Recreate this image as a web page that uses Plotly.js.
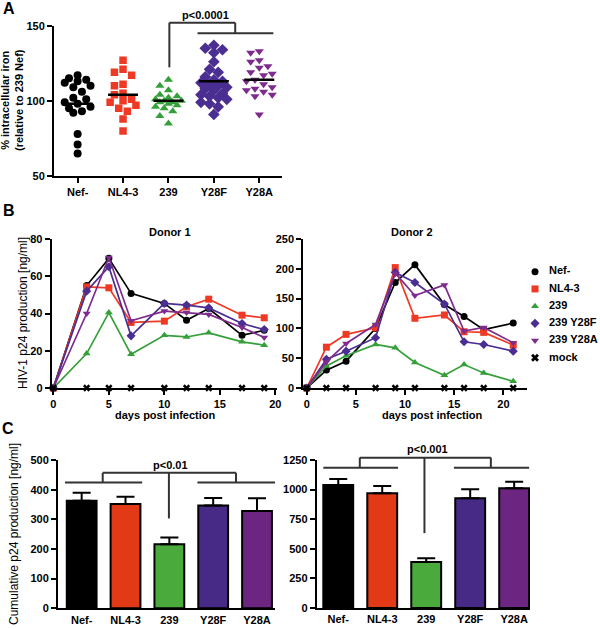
<!DOCTYPE html>
<html><head><meta charset="utf-8">
<script src="https://cdn.plot.ly/plotly-3.0.1.min.js"></script>
<style>html,body{margin:0;padding:0;background:#fff}#plot{width:600px;height:629px}</style>
</head><body><div id="plot"></div>
<script>
// ---------- DATA ----------
const groups = ["Nef-", "NL4-3", "239", "Y28F", "Y28A"];
const legendNames = ["Nef-", "NL4-3", "239", "239 Y28F", "239 Y28A", "mock"];

// Panel A: % intracellular iron (relative to 239 Nef)
const ironNef  = [117, 115, 114, 113, 112, 110, 109, 106, 102, 101, 99, 98, 96, 95, 93, 92, 78, 71, 65];
const ironNL43 = [127, 121, 119, 117, 111, 110, 105, 104, 101, 100, 99, 97, 95, 93, 88, 80];
const iron239  = [114, 110, 107, 104, 103, 102, 101, 100, 100, 99, 99, 98, 97, 96, 95, 93, 90, 85];
const ironY28F = [137, 135, 134, 132, 126, 121, 119, 116, 114, 113, 112, 111, 110, 109, 108, 107, 105, 104, 103, 102, 101, 99, 98, 96, 91];
const ironY28A = [133, 132, 127, 126, 123, 122, 119, 118, 117, 114, 113, 111, 109, 108, 107, 106, 104, 103, 91];
const ironMeans = [98, 104, 100, 113, 114];

// Panel B: HIV-1 p24 production [ng/ml]
const donor1Days = [0, 3, 5, 7, 10, 12, 14, 17, 19];
const d1Nef  = [0, 55, 69.6, 50.8, 45.4, 36.4, 42.7, 28.3, 31];
const d1NL43 = [0, 54.3, 53.8, 35.2, 35.9, 43.6, 47.7, 39.1, 37.7];
const d1_239 = [0, 18.5, 40.5, 18.1, 28.3, 27.4, 29.6, 24.8, 23];
const d1Y28F = [0, 52, 65.1, 28, 45.4, 44.5, 43, 34.6, 31.4];
const d1Y28A = [0, 40, 70.1, 36.1, 41.3, 40.5, 39.5, 32.5, 27.1];
const d1Mock = [0, 0, 0, 0, 0, 0, 0, 0, 0];

const donor2Days = [0, 2, 4, 7, 9, 11, 14, 16, 18, 21];
const d2Nef  = [0, 30, 45, 100, 177, 207, 140, 120, 98, 109];
const d2NL43 = [0, 68.5, 90, 101, 202, 117, 122.5, 94.4, 93.3, 72];
const d2_239 = [0, 37, 54, 73, 67.4, 42.7, 21.3, 39.3, 25.3, 11.2];
const d2Y28F = [0, 48.3, 61.8, 84.3, 194, 177, 141, 77.5, 73, 61.8];
const d2Y28A = [0, 43.8, 74.7, 106.7, 192.7, 155, 173, 95.5, 101.7, 75.8];
const d2Mock = [0, 0, 0, 0, 0, 0, 0, 0, 0, 0];

// Panel C: cumulative p24 production [ng/ml]
const cumD1    = [363, 352, 216, 347, 328];
const cumD1Err = [27, 24, 23, 25, 43];
const cumD2    = [1039, 969, 388, 927, 1011];
const cumD2Err = [51, 62, 33, 76, 56];

// ---------- STYLE ----------
const F = "Liberation Sans, Arial, sans-serif";
const W = 600, H = 629;
const ptCols  = ["#000000", "#ee3a24", "#35a03a", "#4b2e91", "#7e2b8e"];
const barCols = ["#000000", "#e23a16", "#4aab3c", "#472a86", "#6c2580"];
const symbols = ["circle", "square", "triangle-up", "diamond", "triangle-down"];
const ptSizes = [8, 7.5, 8, 9, 8];
const fx = p => p / W, fy = p => 1 - p / H;

const rngA = [-0.52, 4.5], rngAy = [50, 150];
const rngB1 = [-0.15, 20.15], rngB2 = [-0.35, 22.4], rngBy1 = [0, 80], rngBy2 = [0, 250];
const rngC1 = [-0.54, 4.41], rngC2 = [-0.49, 4.36], rngCy1 = [0, 500], rngCy2 = [0, 1250];

function ax(extra) {
  return Object.assign({
    showgrid: false, zeroline: false, showline: true, linecolor: "#000", linewidth: 2,
    ticks: "outside", ticklen: 5, tickwidth: 2, tickcolor: "#000",
    tickfont: {family: F, size: 11, color: "#000", weight: "bold"}, fixedrange: true
  }, extra);
}

// compact beeswarm placement (pixel-space) for the scatter dot plot
function swarm(vals, center) {
  const pxX = 45.4, pxY = 1.5, d = 7.6, s = 4.3;
  const placed = [], xs = new Array(vals.length);
  const order = vals.map((v, i) => i).sort((a, b) => vals[b] - vals[a]);
  const offs = [0, -s, s, -2 * s, 2 * s, -3 * s, 3 * s];
  for (const i of order) {
    let best = 0, bestD = -1;
    for (const off of offs) {
      const md = placed.reduce((m, p) => Math.min(m, Math.hypot(p.x - off, (p.y - vals[i]) * pxY)), Infinity);
      if (md >= d) { best = off; bestD = Infinity; break; }
      if (md > bestD) { bestD = md; best = off; }
    }
    placed.push({x: best, y: vals[i]}); xs[i] = center + best / pxX;
  }
  return xs;
}

const traces = [];
// Panel A
const ironSets = [ironNef, ironNL43, iron239, ironY28F, ironY28A];
ironSets.forEach((vals, g) => {
  traces.push({type: "scatter", mode: "markers", xaxis: "x", yaxis: "y", x: swarm(vals, g), y: vals,
    marker: {symbol: symbols[g], size: ptSizes[g], color: ptCols[g], line: {width: 0}}, showlegend: false, hoverinfo: "skip"});
});
const mx = [], my = [];
ironMeans.forEach((m, g) => { mx.push(g - 0.33, g + 0.33, null); my.push(m, m, null); });
traces.push({type: "scatter", mode: "lines", xaxis: "x", yaxis: "y", x: mx, y: my,
  line: {color: "#000", width: 2.5}, showlegend: false, hoverinfo: "skip"});

// Panel B
const d1Sets = [d1Nef, d1NL43, d1_239, d1Y28F, d1Y28A];
const d2Sets = [d2Nef, d2NL43, d2_239, d2Y28F, d2Y28A];
[[d1Sets, donor1Days, d1Mock, "x2", "y2"], [d2Sets, donor2Days, d2Mock, "x3", "y3"]].forEach(([sets, days, mock, xa, ya]) => {
  sets.forEach((vals, g) => {
    traces.push({type: "scatter", mode: "lines+markers", xaxis: xa, yaxis: ya, x: days, y: vals, cliponaxis: false,
      line: {color: ptCols[g], width: 1.7}, marker: {symbol: symbols[g], size: 7, color: ptCols[g]},
      showlegend: false, hoverinfo: "skip"});
  });
  traces.push({type: "scatter", mode: "markers", xaxis: xa, yaxis: ya, x: days, y: mock, cliponaxis: false,
    marker: {symbol: "x", size: 6.5, color: "#000"}, showlegend: false, hoverinfo: "skip"});
});

// Panel C
const idx = groups.map((g, i) => i);
[[cumD1, cumD1Err, "x4", "y4"], [cumD2, cumD2Err, "x5", "y5"]].forEach(([vals, errs, xa, ya]) => {
  traces.push({type: "bar", xaxis: xa, yaxis: ya, x: idx, y: vals, width: 0.68,
    marker: {color: barCols, line: {color: "#000", width: 2}},
    error_y: {type: "data", array: errs, arrayminus: errs.map(() => 0), symmetric: false, color: "#000", thickness: 2, width: 9},
    showlegend: false, hoverinfo: "skip"});
});

// Legend (drawn as its own small hidden subplot)
const legSyms = symbols.concat(["x"]);
const legCols = ptCols.concat(["#000"]);
const legIdx = legendNames.map((n, i) => i);
traces.push({type: "scatter", mode: "markers", xaxis: "x6", yaxis: "y6", x: legIdx.map(() => 5), y: legIdx,
  marker: {symbol: legSyms, color: legCols, size: 7}, showlegend: false, hoverinfo: "skip", cliponaxis: false});
traces.push({type: "scatter", mode: "text", xaxis: "x6", yaxis: "y6", x: legIdx.map(() => 19), y: legIdx,
  text: legendNames, textposition: "middle right", textfont: {family: F, size: 11, color: "#000", weight: "bold"},
  showlegend: false, hoverinfo: "skip", cliponaxis: false});

// ---------- SHAPES (significance brackets) ----------
const shapes = [];
function seg(xa, ya, xr, yr, x0, y0, x1, y1) {
  const f = (r, v) => (v - r[0]) / (r[1] - r[0]);
  shapes.push({type: "line", xref: xa + " domain", yref: ya + " domain",
    x0: f(xr, x0), x1: f(xr, x1), y0: f(yr, y0), y1: f(yr, y1), line: {color: "#333", width: 2}});
}
// A
seg("x", "y", rngA, rngAy, 2.64, 144.9, 4.31, 144.9);
seg("x", "y", rngA, rngAy, 2.02, 122.3, 2.02, 152);
seg("x", "y", rngA, rngAy, 2.02, 152, 3.47, 152);
seg("x", "y", rngA, rngAy, 3.47, 152, 3.47, 144.9);
// C left
seg("x4", "y4", rngC1, rngCy1, -0.38, 424, 1.38, 424);
seg("x4", "y4", rngC1, rngCy1, 2.64, 424, 4.41, 424);
seg("x4", "y4", rngC1, rngCy1, 0.48, 424, 0.48, 457);
seg("x4", "y4", rngC1, rngCy1, 0.48, 457, 3.52, 457);
seg("x4", "y4", rngC1, rngCy1, 3.52, 457, 3.52, 424);
seg("x4", "y4", rngC1, rngCy1, 1.99, 457, 1.99, 303);
// C right
seg("x5", "y5", rngC2, rngCy2, -0.34, 1185, 1.36, 1185);
seg("x5", "y5", rngC2, rngCy2, 2.63, 1185, 4.34, 1185);
seg("x5", "y5", rngC2, rngCy2, 0.49, 1185, 0.49, 1270);
seg("x5", "y5", rngC2, rngCy2, 0.49, 1270, 3.47, 1270);
seg("x5", "y5", rngC2, rngCy2, 3.47, 1270, 3.47, 1185);
seg("x5", "y5", rngC2, rngCy2, 1.96, 1270, 1.96, 632);

// ---------- ANNOTATIONS (titles, letters, p-values) ----------
function txt(text, xp, yp, size, bold, angle) {
  return {text: text, xref: "paper", yref: "paper", x: fx(xp), y: fy(yp), xanchor: "center", yanchor: "middle",
    showarrow: false, textangle: angle || 0, font: {family: F, size: size, color: "#000", weight: bold ? "bold" : "normal"}};
}
const annotations = [
  txt("A", 9, 8, 16, true), txt("B", 9, 211, 16, true), txt("C", 8, 428, 16, true),
  txt("p<0.0001", 205, 15, 11, true), txt("p<0.01", 170.5, 465, 11, true), txt("p<0.001", 427.5, 449, 11, true),
  txt("% intracellular iron<br>(relative to 239 Nef)", 12, 100, 11, true, -90),
  txt("HIV-1 p24 production [ng/ml]", 23, 313, 12, false, -90),
  txt("Cumulative p24 production [ng/ml]", 14, 534, 12, false, -90),
  txt("Donor 1", 170, 232, 11, true), txt("Donor 2", 412, 232, 11, true),
  txt("days post infection", 165, 415, 11, true), txt("days post infection", 432, 415, 11, true)
];

const layout = {
  width: W, height: H, margin: {l: 0, r: 0, t: 0, b: 0}, paper_bgcolor: "#fff", plot_bgcolor: "#fff",
  showlegend: false, bargap: 0,
  xaxis: ax({domain: [fx(54), fx(282)], range: rngA, anchor: "y", tickvals: idx, ticktext: groups}),
  yaxis: ax({domain: [fy(176), fy(25.7)], range: rngAy, anchor: "x", tickvals: [50, 100, 150]}),
  xaxis2: ax({domain: [fx(51.7), fx(277)], range: rngB1, anchor: "y2", tickvals: [0, 5, 10, 15, 20]}),
  yaxis2: ax({domain: [fy(388), fy(239)], range: rngBy1, anchor: "x2", tickvals: [0, 20, 40, 60, 80]}),
  xaxis3: ax({domain: [fx(303.3), fx(527)], range: rngB2, anchor: "y3", tickvals: [0, 5, 10, 15, 20]}),
  yaxis3: ax({domain: [fy(388), fy(239)], range: rngBy2, anchor: "x3", tickvals: [0, 50, 100, 150, 200, 250]}),
  xaxis4: ax({domain: [fx(58), fx(275)], range: rngC1, anchor: "y4", tickvals: idx, ticktext: groups, ticks: ""}),
  yaxis4: ax({domain: [fy(608.3), fy(460)], range: rngCy1, anchor: "x4", tickvals: [0, 100, 200, 300, 400, 500]}),
  xaxis5: ax({domain: [fx(316.7), fx(530)], range: rngC2, anchor: "y5", tickvals: idx, ticktext: groups, ticks: ""}),
  yaxis5: ax({domain: [fy(608), fy(460)], range: rngCy2, anchor: "x5", tickvals: [0, 250, 500, 750, 1000, 1250]}),
  xaxis6: {domain: [fx(530), 1], range: [0, 70], visible: false, anchor: "y6", fixedrange: true},
  yaxis6: {domain: [fy(365), fy(265)], range: [5.42, -0.39], visible: false, anchor: "x6", fixedrange: true},
  shapes: shapes, annotations: annotations
};

Plotly.newPlot("plot", traces, layout, {staticPlot: true, displayModeBar: false});
</script>
</body></html>
